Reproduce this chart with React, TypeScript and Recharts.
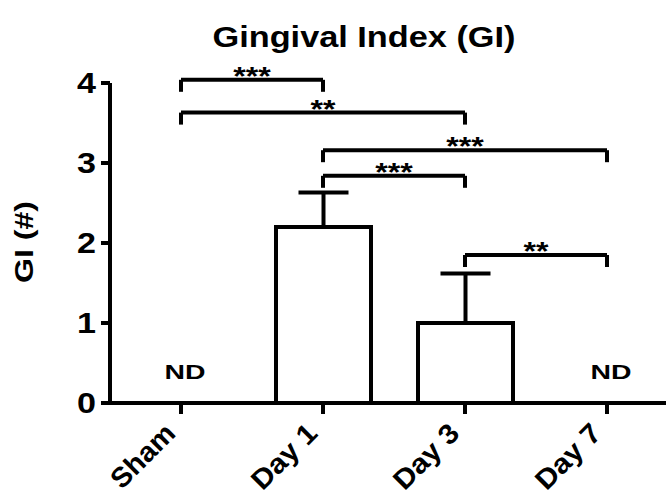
import React from 'react';
import { BarChart, Bar, XAxis, YAxis, ErrorBar, ReferenceLine, ReferenceDot } from 'recharts';

const FONT = 'Arial, "Liberation Sans", sans-serif';

const groups = ['Sham', 'Day 1', 'Day 3', 'Day 7'];
const giMean: (number | null)[] = [null, 2.2, 1.0, null];
const giErrUp: (number | null)[] = [null, 0.43, 0.62, null];
const notDetected = [true, false, false, true];

// significance brackets (from, to, height in GI units, stars)
const pairFrom = ['Sham', 'Sham', 'Day 1', 'Day 1', 'Day 3'];
const pairTo = ['Day 1', 'Day 3', 'Day 7', 'Day 3', 'Day 7'];
const pairLevel = [4.04, 3.63, 3.16, 2.84, 1.85];
const pairStars = ['***', '**', '***', '***', '**'];

const yTicks = [0, 1, 2, 3, 4];

const data = groups.map((name, i) => ({
  name,
  gi: giMean[i],
  err: giErrUp[i] == null ? null : [0, giErrUp[i]],
}));

const LW = 4;

const XTick = ({ x, y, payload }: any) => (
  <text
    transform={`translate(${x - 4},${y + 19}) rotate(-45)`}
    textAnchor="end"
    fontSize={28}
    fontWeight={700}
    fontFamily={FONT}
    textLength={payload.value === 'Sham' ? 78 : 80}
    lengthAdjust="spacingAndGlyphs"
    fill="#000"
  >
    {payload.value}
  </text>
);

const YTick = ({ x, y, payload }: any) => (
  <text
    x={x}
    y={y}
    dy="0.36em"
    textAnchor="end"
    fontSize={29}
    fontWeight={700}
    fontFamily={FONT}
    textLength={19}
    lengthAdjust="spacingAndGlyphs"
    fill="#000"
  >
    {payload.value}
  </text>
);

const StarLabel = (stars: string) => (props: any) => {
  const vb = props.viewBox;
  return (
    <text
      x={vb.x + vb.width / 2}
      y={vb.y + 5}
      textAnchor="middle"
      fontSize={26}
      fontWeight={700}
      fontFamily={FONT}
      textLength={stars.length * 12.5}
      lengthAdjust="spacingAndGlyphs"
      fill="#000"
    >
      {stars}
    </text>
  );
};

const NdLabel = (props: any) => {
  const vb = props.viewBox;
  return (
    <text
      x={vb.x + vb.width / 2 + 4}
      y={vb.y + vb.height / 2}
      dy="0.36em"
      textAnchor="middle"
      fontSize={21}
      fontWeight={700}
      fontFamily={FONT}
      textLength={41}
      lengthAdjust="spacingAndGlyphs"
      fill="#000"
    >
      ND
    </text>
  );
};

const YLabel = () => (
  <text
    transform="translate(24,242) rotate(-90)"
    textAnchor="middle"
    dy="0.36em"
    fontSize={26}
    fontWeight={700}
    fontFamily={FONT}
    textLength={82}
    lengthAdjust="spacingAndGlyphs"
    fill="#000"
  >
    GI (#)
  </text>
);

const App: React.FC = () => {
  const drop = 0.15;
  const ndLevel = 0.4;
  return (
    <div style={{ position: 'absolute', left: 0, top: 0, width: 666, height: 498, background: '#fff' }}>
      <svg width={666} height={70} style={{ position: 'absolute', left: 0, top: 0 }}>
        <text
          x={364}
          y={47}
          textAnchor="middle"
          fontSize={29}
          fontWeight={700}
          fontFamily={FONT}
          textLength={303}
          lengthAdjust="spacingAndGlyphs"
          fill="#000"
        >
          Gingival Index (GI)
        </text>
      </svg>
      <BarChart width={666} height={498} data={data} margin={{ top: 83, right: -12, bottom: 0, left: 0 }}>
        <XAxis
          dataKey="name"
          height={95}
          axisLine={{ stroke: '#000', strokeWidth: LW }}
          tickLine={{ stroke: '#000', strokeWidth: LW }}
          tickSize={11}
          tick={<XTick />}
          interval={0}
        />
        <YAxis
          width={110}
          domain={[0, 4]}
          ticks={yTicks}
          axisLine={{ stroke: '#000', strokeWidth: LW }}
          tickLine={{ stroke: '#000', strokeWidth: LW }}
          tickSize={9}
          tickMargin={5}
          tick={<YTick />}
          label={<YLabel />}
        />
        <Bar dataKey="gi" fill="#fff" stroke="#000" strokeWidth={LW} barSize={95} isAnimationActive={false}>
          <ErrorBar dataKey="err" width={25} stroke="#000" strokeWidth={LW} direction="y" isAnimationActive={false} />
        </Bar>
        {groups
          .filter((_, i) => notDetected[i])
          .map((g) => (
            <ReferenceDot key={g} x={g} y={ndLevel} r={0} fill="none" stroke="none" label={<NdLabel />} />
          ))}
        {pairFrom.map((from, i) => (
          <React.Fragment key={i}>
            <ReferenceLine
              segment={[
                { x: from, y: pairLevel[i] },
                { x: pairTo[i], y: pairLevel[i] },
              ]}
              stroke="#000"
              strokeWidth={LW}
              ifOverflow="visible"
              label={StarLabel(pairStars[i])}
            />
            <ReferenceLine
              segment={[
                { x: from, y: pairLevel[i] },
                { x: from, y: pairLevel[i] - drop },
              ]}
              stroke="#000"
              strokeWidth={LW}
              ifOverflow="visible"
            />
            <ReferenceLine
              segment={[
                { x: pairTo[i], y: pairLevel[i] },
                { x: pairTo[i], y: pairLevel[i] - drop },
              ]}
              stroke="#000"
              strokeWidth={LW}
              ifOverflow="visible"
            />
          </React.Fragment>
        ))}
      </BarChart>
    </div>
  );
};

export default App;
